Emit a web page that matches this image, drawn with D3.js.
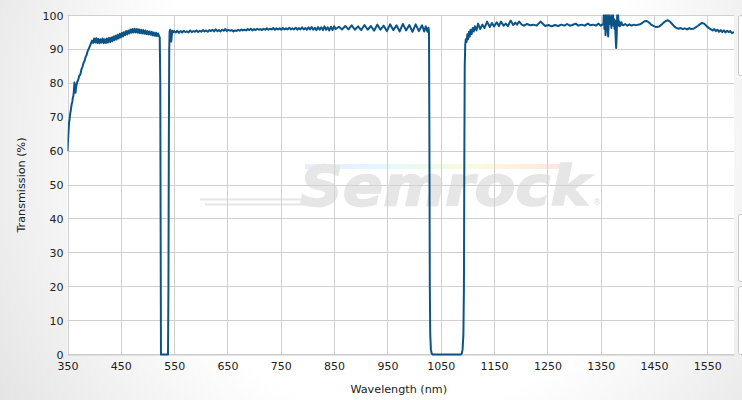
<!DOCTYPE html>
<html>
<head>
<meta charset="utf-8">
<script src="https://cdn.jsdelivr.net/npm/d3@7/dist/d3.min.js"></script>
<style>
  html, body { margin: 0; padding: 0; background: #fff; }
  svg { display: block; }
</style>
</head>
<body>
<svg id="chart" width="742" height="400"></svg>
<script>
// ---------- DATA ----------
const xTicks = [350, 450, 550, 650, 750, 850, 950, 1050, 1150, 1250, 1350, 1450, 1550];
const yTicks = [0, 10, 20, 30, 40, 50, 60, 70, 80, 90, 100];
const xTitle = "Wavelength (nm)";
const yTitle = "Transmission (%)";

// [wavelength nm, transmission %]
const riseRegion = [[350,60],[351,63.5],[352,66],[353,68.5],[354,69.5],[355,71],[356,71.8],[357,73],[358,74],[359,74.5],[360,75.8],[361,76.2],[362,77.8],[363,80.2],[364,78],[365,77.2],[366,78.8],[367,79.5],[368,80.3],[370,81],[372,82.2],[374,82.5],[376,84],[378,84.8],[380,86],[382,86.6],[384,87.8],[386,88.4],[388,89.6],[390,90.2],[392,91],[394,91.8],[396,92.6],[398,91.9],[400,93.2],[402,92],[404,93.3],[406,91.9],[408,93.1],[410,91.8],[412,93],[414,92],[416,93.2],[418,91.8],[420,93],[422,91.9],[424,93.2],[426,92],[428,93.4],[430,92.2],[432,93.5],[434,92.4],[436,93.8],[438,92.7],[440,94],[442,92.9],[444,94.3],[446,93.2],[448,94.6],[450,93.5],[452,94.9],[454,93.8],[456,95.1],[458,94.2],[460,95.4],[462,94.4],[464,95.6],[466,94.7],[468,95.9],[470,94.9],[472,96],[474,95],[476,96.1],[478,95],[480,96],[482,94.9],[484,95.9],[486,94.8],[488,95.8],[490,94.7],[492,95.7],[494,94.6],[496,95.6],[498,94.5],[500,95.4],[502,94.4],[504,95.3],[506,94.3],[508,95.2],[510,94.1],[512,95],[514,94],[516,94.9],[518,93.9],[520,94.7],[522,93.8],[523,93.5],[524,80],[524.8,30],[525.3,0]];

const notch1 = [[538.5,0],[539.3,20],[540,60],[540.8,90],[541.5,95.3],[542.5,95.8],[543.5,94.5],[544.5,92.3],[545.5,94],[546.5,95.5],[548,95],[550,95.4]];

const visPlateau = [[553,95],[556,95.5],[559,94.9],[562,95.4],[565,95],[568,95.5],[571,95.1],[574,95.3],[577,95],[580,95.6],[583,95.1],[586,95.4],[589,95.2],[592,95.6],[595,95.1],[598,95.5],[601,95.2],[604,95.7],[607,95.3],[610,95.6],[613,95.2],[616,95.7],[619,95.4],[622,95.8],[625,95.3],[628,95.9],[631,95.4],[634,95.7],[637,95.3],[640,95.8],[643,95.5],[646,96],[649,95.4],[652,95.8],[655,95.5],[658,95.7],[661,95.3],[664,95.6],[667,95.4],[670,95.8],[673,95.5],[676,95.9],[679,95.6],[682,95.8],[685,95.6],[688,96],[691,95.7],[694,96.1],[697,95.6],[700,96],[703,95.7],[706,96.1],[709,95.8],[712,96],[715,95.7],[718,96.1],[721,95.8],[724,96.2],[727,95.8],[730,96.1],[733,95.9],[736,96.3],[739,95.8],[742,96.2],[745,95.9],[748,96.2],[751,95.8],[754,96.3],[757,95.9],[760,96.2],[763,95.9],[766,96.4],[769,95.9],[772,96.2],[775,95.9],[778,96.4],[781,95.8],[784,96.3],[787,95.9],[790,96.5],[793,95.9],[796,96.3],[799,95.8],[802,96.5],[805,95.9],[808,96.6],[811,95.8],[814,96.4],[817,95.7],[820,96.6],[823,95.8],[826,96.5],[829,95.7],[832,96.8],[835,95.8],[838,96.5],[841,95.6],[844,96.7],[847,95.7],[850,96.8]];

const rippleRegion = [[853,96],[859,96.7],[865,95.9],[871,96.9],[877,95.9],[883,97.1],[889,95.8],[895,96.8],[901,95.7],[907,97.2],[913,95.8],[919,96.9],[925,95.5],[931,97.3],[937,95.8],[943,97],[949,95.4],[955,97.4],[961,95.7],[967,97.1],[973,95.3],[979,97.5],[985,95.6],[991,97.2],[997,95.2],[1003,97.4],[1009,95.4],[1015,97.1],[1019,95.3],[1022,96.8],[1025,95.2],[1027,96.4],[1028,95],[1028.8,60],[1029.5,20],[1030.3,6],[1031.5,1.5],[1033,0.3],[1035,0]];

const notch2 = [[1088,0],[1089.5,0.3],[1091,1.5],[1092.5,6],[1093.5,20],[1094.3,60],[1095,85],[1096,91.5]];

const nirRegion = [[1097,93],[1098.5,92.2],[1100,94.5],[1101.5,93],[1103,95.2],[1104.5,93.8],[1106,95.8],[1108,94.5],[1110,96.3],[1112,95.3],[1114,96.8],[1117,95.6],[1120,97.6],[1124,96],[1128,97.3],[1132,96.3],[1137,98.2],[1142,96.6],[1146,97.8],[1150,96.8],[1155,98],[1159,96.9],[1163,98.2],[1168,97],[1172,97.6],[1176,96.9],[1181,98.5],[1186,97.2],[1190,97.9],[1193,97.3],[1197,98.2],[1202,97.3],[1206,97],[1212,97.5],[1218,97.1],[1224,97.3],[1230,97],[1237,98.2],[1242,97.5],[1246,96.9],[1252,97.2],[1258,96.8],[1264,97.2],[1270,96.9],[1276,97.3],[1282,97],[1287,97.5],[1292,97],[1297,97.2],[1303,97.6],[1308,97],[1314,97.3],[1320,97],[1326,97.6],[1331,97.1],[1336,97.3],[1341,97],[1346,97.6],[1350,97],[1353,97.3]];

const waterBand = [[1355,97.5],[1356,101],[1357,96],[1358,103],[1359,94.2],[1360,99],[1361,97],[1362,102],[1363,95.5],[1364,93.8],[1365,98],[1366,104],[1367,100],[1368,97.5],[1369,99.5],[1370,96.3],[1371,98.5],[1372,104],[1373,101],[1374,97],[1375,99],[1376,96],[1377,98.5],[1378,93.5],[1379,90.4],[1380,94],[1381,100.5],[1382,103],[1383,99],[1384,97],[1385,98.2],[1386,96.8],[1387,97.8],[1388,97.2],[1389,98],[1390,97.4]];

const tailRegion = [[1392,97.1],[1396,97.5],[1400,97],[1404,97.4],[1408,97],[1412,97.3],[1416,97.1],[1420,97.3],[1424,97.4],[1428,97.8],[1432,98.3],[1436,98.4],[1440,98],[1444,97.4],[1448,97],[1452,96.7],[1456,96.6],[1460,96.8],[1464,97.3],[1468,97.9],[1472,98.4],[1476,98.6],[1480,98.2],[1484,97.5],[1488,96.8],[1492,96.3],[1496,96.1],[1500,96.3],[1504,96],[1508,96.2],[1512,95.9],[1516,96.3],[1520,96],[1524,96.1],[1528,96.5],[1532,96.9],[1536,97.4],[1540,97.8],[1544,97.6],[1548,97],[1552,96.4],[1556,96],[1560,95.6],[1563,96],[1566,95.4],[1569,95.8],[1572,95.2],[1575,95.7],[1578,95.1],[1581,95.6],[1584,95],[1587,95.5],[1590,95.1],[1593,95.4],[1596,94.8],[1600,95.1]];

const spectrum = [].concat(riseRegion, notch1, visPlateau, rippleRegion, notch2, nirRegion, waterBand, tailRegion);

// ---------- LAYOUT ----------
const W = 742, H = 400;
const plot = { left: 67.5, right: 734, top: 15.5, bottom: 354.5 };
const font = "'DejaVu Sans', Verdana, sans-serif";

const svg = d3.select("#chart");
const defs = svg.append("defs");

const bg = defs.append("radialGradient").attr("id", "bgGrad")
  .attr("gradientUnits", "userSpaceOnUse")
  .attr("cx", 400).attr("cy", 150).attr("r", 480);
bg.append("stop").attr("offset", "0.55").attr("stop-color", "#ffffff");
bg.append("stop").attr("offset", "1").attr("stop-color", "#e3e3e3");

defs.append("clipPath").attr("id", "plotClip").append("rect")
  .attr("x", plot.left).attr("y", plot.top - 1)
  .attr("width", plot.right - plot.left).attr("height", plot.bottom - plot.top + 3);

const rainbow = defs.append("linearGradient").attr("id", "rainbow")
  .attr("x1", "0").attr("x2", "1").attr("y1", "0").attr("y2", "0");
[["0", "#e8ecff"], ["0.3", "#e6f6ff"], ["0.5", "#eefbe8"], ["0.7", "#fff7dc"], ["1", "#ffe4e4"]]
  .forEach(([o, c]) => rainbow.append("stop").attr("offset", o).attr("stop-color", c));

svg.append("rect").attr("width", W).attr("height", H).attr("fill", "url(#bgGrad)");
svg.append("rect")
  .attr("x", plot.left).attr("y", plot.top)
  .attr("width", plot.right - plot.left).attr("height", plot.bottom - plot.top)
  .attr("fill", "#ffffff");

// side panels (partially visible on the right edge)
[[15.5, 60], [214.5, 67], [286.5, 68]].forEach(([yy, hh]) => {
  svg.append("rect").attr("x", 738.5).attr("y", yy).attr("width", 12).attr("height", hh)
    .attr("rx", 2).attr("fill", "#ffffff").attr("stroke", "#c8c8c8");
});

// scales
const x = d3.scaleLinear().domain([350, 1600]).range([plot.left, plot.right]);
const y = d3.scaleLinear().domain([0, 100]).range([plot.bottom, plot.top]);

// watermark
const wm = svg.append("g");
wm.append("rect").attr("x", 305).attr("y", 164).attr("width", 262).attr("height", 5).attr("fill", "url(#rainbow)");
wm.append("path").attr("d", "M200,199.5 L305,199.5 M205,204.5 L310,204.5")
  .attr("stroke", "#e6e6e6").attr("stroke-width", 2).attr("fill", "none");
wm.append("text").attr("x", 300).attr("y", 205)
  .attr("font-family", font).attr("font-weight", "bold").attr("font-style", "italic")
  .attr("font-size", 56).attr("textLength", 290).attr("lengthAdjust", "spacingAndGlyphs")
  .attr("fill", "#e6e6e6").attr("stroke", "#e6e6e6").attr("stroke-width", 1.5).text("Semrock");
wm.append("text").attr("x", 593).attr("y", 205).attr("font-family", font)
  .attr("font-size", 8).attr("fill", "#e0e0e0").text("®");

// grid
const grid = svg.append("g");
grid.selectAll("line.v").data(xTicks).join("line").attr("class", "v")
  .attr("x1", d => Math.round(x(d)) + 0.5).attr("x2", d => Math.round(x(d)) + 0.5)
  .attr("y1", plot.top).attr("y2", plot.bottom)
  .attr("stroke", "#d0d0d0").attr("stroke-width", 1);
grid.selectAll("line.h").data(yTicks).join("line").attr("class", "h")
  .attr("x1", plot.left).attr("x2", plot.right)
  .attr("y1", d => Math.floor(y(d)) + 0.5).attr("y2", d => Math.floor(y(d)) + 0.5)
  .attr("stroke", "#d0d0d0").attr("stroke-width", 1);

// axes
const xAxis = d3.axisBottom(x).tickValues(xTicks).tickFormat(d3.format("d")).tickSize(0).tickPadding(6);
const gx = svg.append("g").attr("transform", `translate(0,${plot.bottom})`).call(xAxis);
gx.select(".domain").attr("stroke", "#c8c8c8");
gx.selectAll("text").attr("font-family", font).attr("font-size", 11).attr("fill", "#222").attr("dy", "0.9em");

const yAxis = d3.axisLeft(y).tickValues(yTicks).tickFormat(d3.format("d")).tickSize(0).tickPadding(4);
const gy = svg.append("g").attr("transform", `translate(${plot.left},0)`).call(yAxis);
gy.select(".domain").remove();
gy.selectAll("text").attr("font-family", font).attr("font-size", 11).attr("fill", "#222");

svg.append("text").attr("x", (plot.left + plot.right) / 2 - 2).attr("y", 393)
  .attr("text-anchor", "middle").attr("font-family", font).attr("font-size", 11.2)
  .attr("fill", "#222").text(xTitle);
svg.append("text").attr("transform", `translate(25,${(plot.top + plot.bottom) / 2}) rotate(-90)`)
  .attr("text-anchor", "middle").attr("font-family", font).attr("font-size", 11.2)
  .attr("fill", "#222").text(yTitle);

// series
const line = d3.line().x(d => x(d[0])).y(d => y(d[1]));
svg.append("g").attr("clip-path", "url(#plotClip)")
  .append("path").datum(spectrum)
  .attr("d", line).attr("fill", "none")
  .attr("stroke", "#0c5486").attr("stroke-width", 2).attr("stroke-linejoin", "round");
</script>
</body>
</html>
